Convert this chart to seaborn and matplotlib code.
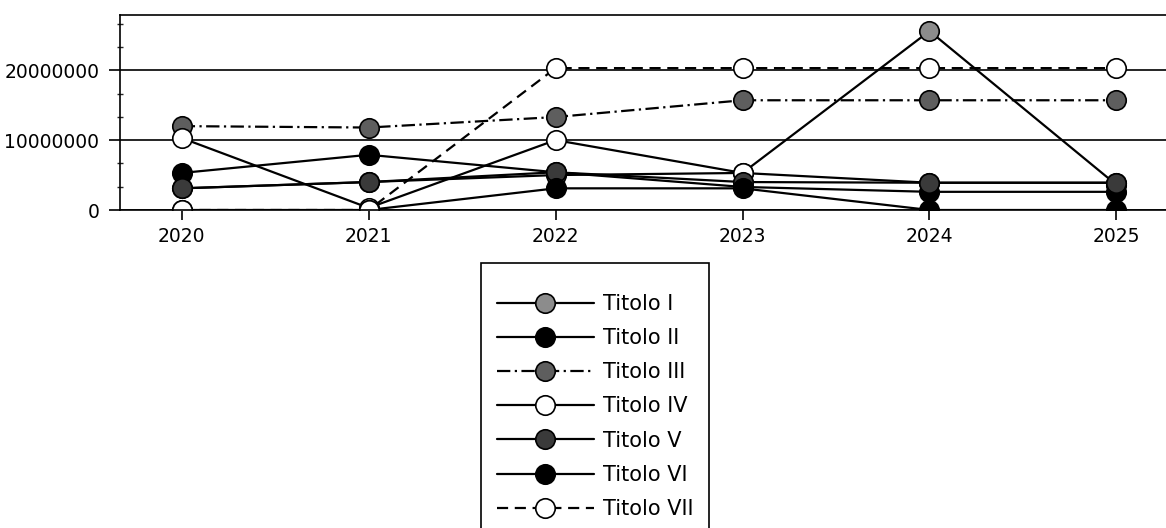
import numpy as np
import pandas as pd
import seaborn as sns
import matplotlib
matplotlib.use('Agg')
import matplotlib.pyplot as plt
from matplotlib.ticker import MultipleLocator, FuncFormatter

years = [2020, 2021, 2022, 2023, 2024, 2025]

titolo_1 = [3.1e6, 4.0e6, 5.0e6, 5.3e6, 25.6e6, 3.6e6]
titolo_2 = [5.3e6, 7.9e6, 5.4e6, 3.3e6, 2.6e6, 2.6e6]
titolo_3 = [12.0e6, 11.8e6, 13.3e6, 15.7e6, 15.7e6, 15.7e6]
titolo_4 = [10.3e6, 0.3e6, 10.0e6, 5.3e6, 3.9e6, 3.9e6]
titolo_5 = [3.1e6, 4.0e6, 5.4e6, 4.0e6, 3.9e6, 3.9e6]
titolo_6 = [0, 0, 3.1e6, 3.1e6, 0, 0]
titolo_7 = [0, 0, 20.3e6, 20.3e6, 20.3e6, 20.3e6]

names = ['Titolo I', 'Titolo II', 'Titolo III', 'Titolo IV',
         'Titolo V', 'Titolo VI', 'Titolo VII']
series = [titolo_1, titolo_2, titolo_3, titolo_4, titolo_5, titolo_6, titolo_7]

# look of each series (black & white print)
faces = ['#8c8c8c', 'black', '#5e5e5e', 'white', '#3a3a3a', 'black', 'white']
styles = ['-', '-', (0, (6, 2, 1, 2)), '-', '-', '-', (0, (5, 3))]

data = pd.concat([
    pd.DataFrame({'Year': years, 'Value': vals, 'Series': name})
    for name, vals in zip(names, series)
])

sns.set_style('white')
plt.rcParams['font.family'] = ['DejaVu Sans']
plt.rcParams['text.color'] = 'black'

fig = plt.figure(figsize=(11.66, 5.28), dpi=100)
ax = fig.add_axes([120 / 1166, 1 - 210 / 528, (1180 - 120) / 1166, 195 / 528])

for name, face, ls in zip(names, faces, styles):
    sub = data[data['Series'] == name]
    sns.lineplot(x='Year', y='Value', data=sub, ax=ax, color='black',
                 marker='o', markersize=14, markerfacecolor=face,
                 markeredgecolor='black', markeredgewidth=1.2,
                 linewidth=1.6, linestyle=ls, label=name, legend=False)

ax.set_xlim(2019.67, 2025.34)
ax.set_ylim(0, 27.9e6)
ax.set_xticks(years)
ax.set_xticklabels([str(y) for y in years])
ax.set_yticks([0, 10000000, 20000000])
ax.yaxis.set_major_formatter(FuncFormatter(lambda v, p: '%d' % v))
ax.yaxis.set_minor_locator(MultipleLocator(10000000 / 3))
ax.grid(axis='y', color='black', linewidth=1.2)
ax.set_axisbelow(True)
ax.set_xlabel('')
ax.set_ylabel('')

for s in ax.spines.values():
    s.set_color('black')
    s.set_linewidth(1.2)

ax.tick_params(axis='y', which='major', direction='out', length=8, width=1.2,
               left=True, labelsize=13.5, pad=7, colors='black')
ax.tick_params(axis='y', which='minor', direction='inout', length=5, width=1,
               left=True)
ax.tick_params(axis='x', which='major', direction='out', length=7, width=1.2,
               bottom=True, labelsize=13.5, pad=5, colors='black')

handles, labels = ax.get_legend_handles_labels()
leg = fig.legend(handles, labels, loc='upper left',
                 bbox_to_anchor=(481 / 1166, 1 - 263 / 528),
                 fontsize=15, frameon=True, fancybox=False,
                 edgecolor='black', framealpha=1, handlelength=4.66,
                 handletextpad=0.43, labelspacing=0.68, borderpad=0.76,
                 borderaxespad=0, title=' ', title_fontsize=1)
leg.get_frame().set_linewidth(1.2)
for t in leg.get_texts():
    t.set_color('black')

fig.savefig('out.png', dpi=100)
